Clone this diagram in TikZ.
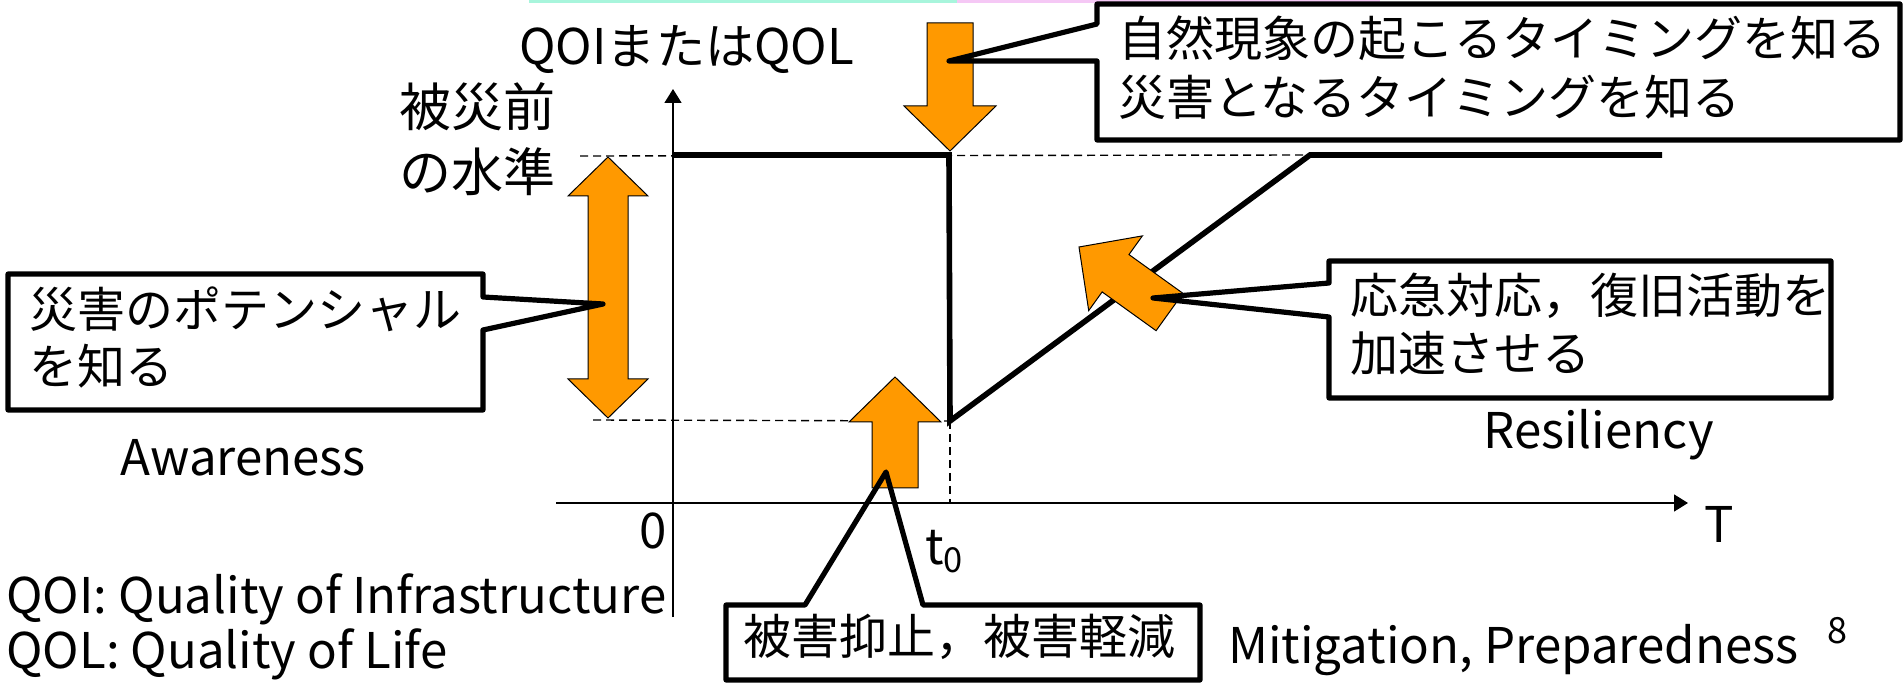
\documentclass[tikz,border=0pt]{standalone}
\usepackage{fontspec}
\setmainfont{Noto Sans CJK JP}
\usepackage{tikz}
\usetikzlibrary{calc,arrows.meta}
\definecolor{warnorange}{HTML}{FF9900}
\definecolor{topcyan}{HTML}{A8F5DC}
\definecolor{toppink}{HTML}{F5C8F5}
\tikzstyle{qline} = [draw, line width=2.8pt, black]
\tikzstyle{axisline} = [draw, line width=0.8pt, -{Triangle[length=7pt,width=8.5pt]}]
\tikzstyle{guide} = [draw, line width=0.7pt, dash pattern=on 4pt off 2.5pt]
\tikzstyle{blockarrow} = [draw=black, line width=0.5pt, fill=warnorange]
\tikzstyle{calloutbox} = [draw, line width=2.6pt, line join=round]
\tikzstyle{jp} = [inner sep=0pt, anchor=west, font=\fontsize{24pt}{24pt}\selectfont]
\tikzstyle{en} = [inner sep=0pt, anchor=base west, font=\fontsize{24.6pt}{24.6pt}\selectfont]

\begin{document}
\begin{tikzpicture}[x=0.5pt, y=-0.5pt]

					\useasboundingbox (0,0) rectangle (1903,684);

					\draw[topcyan, line width=1.5pt] (529,1.5) -- (957,1.5);
					\draw[toppink, line width=1.5pt] (957,1.5) -- (1380,1.5);

					% axes
					\coordinate (o) at (673,503);
					\coordinate (y_low) at (673,617);
					\coordinate (y_top) at (673,89);
					\coordinate (x_low) at (556,503);
					\coordinate (x_top) at (1688,503);

					% QOI / QOL curve
					\coordinate (p_0) at (673,155);
					\coordinate (p_1) at (949,155);
					\coordinate (p_2) at (950,421);
					\coordinate (p_3) at (1310,155);
					\coordinate (p_4) at (1662,155);

					\draw[guide] (580,156) -- (p_3);
					\draw[guide] (593,420) -- (p_2);
					\draw[guide] (p_2) -- (p_2 |- o);

					\draw[axisline] (y_low) -- (y_top);
					\draw[axisline] (x_low) -- (x_top);

					\draw[qline] (p_0) -- (p_1) -- (p_2) -- (p_3) -- (p_4);

					% orange arrows
					\coordinate (dn_tail) at (950,23);
					\coordinate (dn_tip) at (950,151);
					\coordinate (up_tail) at (895,488);
					\coordinate (up_tip) at (895,377);
					\coordinate (rs_tail) at (1169.5,312);
					\coordinate (rs_tip) at (1079,247);

					\foreach \source/\target in {dn_tail/dn_tip, up_tail/up_tip, rs_tail/rs_tip}{
						\coordinate (h) at ($(\target)!22.5pt!(\source)$);
						\draw[blockarrow] ($(\source)!11.5pt!90:(\target)$) -- ($(h)!11.5pt!-90:(\source)$)
							-- ($(h)!23pt!-90:(\source)$) -- (\target) -- ($(h)!23pt!90:(\source)$)
							-- ($(h)!11.5pt!90:(\source)$) -- ($(\source)!11.5pt!-90:(\target)$) -- cycle;
					}

					\draw[blockarrow] (588,196) -- (568,196) -- (608,157) -- (648,196) -- (628,196)
						-- (628,379) -- (648,379) -- (608,418) -- (568,379) -- (588,379) -- cycle;

					% callouts
					\coordinate (tip_a) at (949,61);
					\coordinate (tip_b) at (603,304);
					\coordinate (tip_c) at (1153,298);
					\coordinate (tip_d) at (886,472);

					\draw[calloutbox] (1097,24) -- (1097,4) -- (1900,4) -- (1900,140) -- (1097,140) -- (1097,61) -- (tip_a) -- cycle;
					\draw[calloutbox] (483,297) -- (483,274) -- (8,274) -- (8,410) -- (483,410) -- (483,330) -- (tip_b) -- cycle;
					\draw[calloutbox] (1329,283) -- (1329,261) -- (1831,261) -- (1831,398) -- (1329,398) -- (1329,317) -- (tip_c) -- cycle;
					\draw[calloutbox] (805,605) -- (726,605) -- (726,680) -- (1200,680) -- (1200,605) -- (923,605) -- (tip_d) -- cycle;

					% texts
					\node[en] (y_name) at (519,65) {QOIまたはQOL};
					\node[jp, font=\fontsize{26pt}{26pt}\selectfont] (pre_1) at (399,107) {被災前};
					\node[jp, font=\fontsize{26pt}{26pt}\selectfont] (pre_2) at (399,172) {の水準};

					\node[jp] (a_1) at (1118,38) {自然現象の起こるタイミングを知る};
					\node[jp] (a_2) at (1118,97) {災害となるタイミングを知る};
					\node[jp] (b_1) at (29,309) {災害のポテンシャル};
					\node[jp] (b_2) at (29,366) {を知る};
					\node[jp] (c_1) at (1350,296) {応急対応，復旧活動を};
					\node[jp] (c_2) at (1350,353) {加速させる};
					\node[jp] (d_1) at (743,637) {被害抑止，被害軽減};

					\node[en] (awareness) at (120,475) {Awareness};
					\node[en] (resiliency) at (1483,449) {Resiliency};
					\node[en] (mitigation) at (1228,663) {Mitigation, Preparedness};
					\node[en] (qoi) at (6,613) {QOI: Quality of Infrastructure};
					\node[en] (qol) at (6,668) {QOL: Quality of Life};

					\node[en, anchor=base] (zero) at (653,548) {0};
					\node[en] (t_0) at (925,565) {t\textsubscript{0}};
					\node[en, anchor=base] (t_axis) at (1719,542) {T};
					\node[en, anchor=base, font=\fontsize{18pt}{18pt}\selectfont] (page) at (1837,643) {8};
				\end{tikzpicture}
\end{document}
